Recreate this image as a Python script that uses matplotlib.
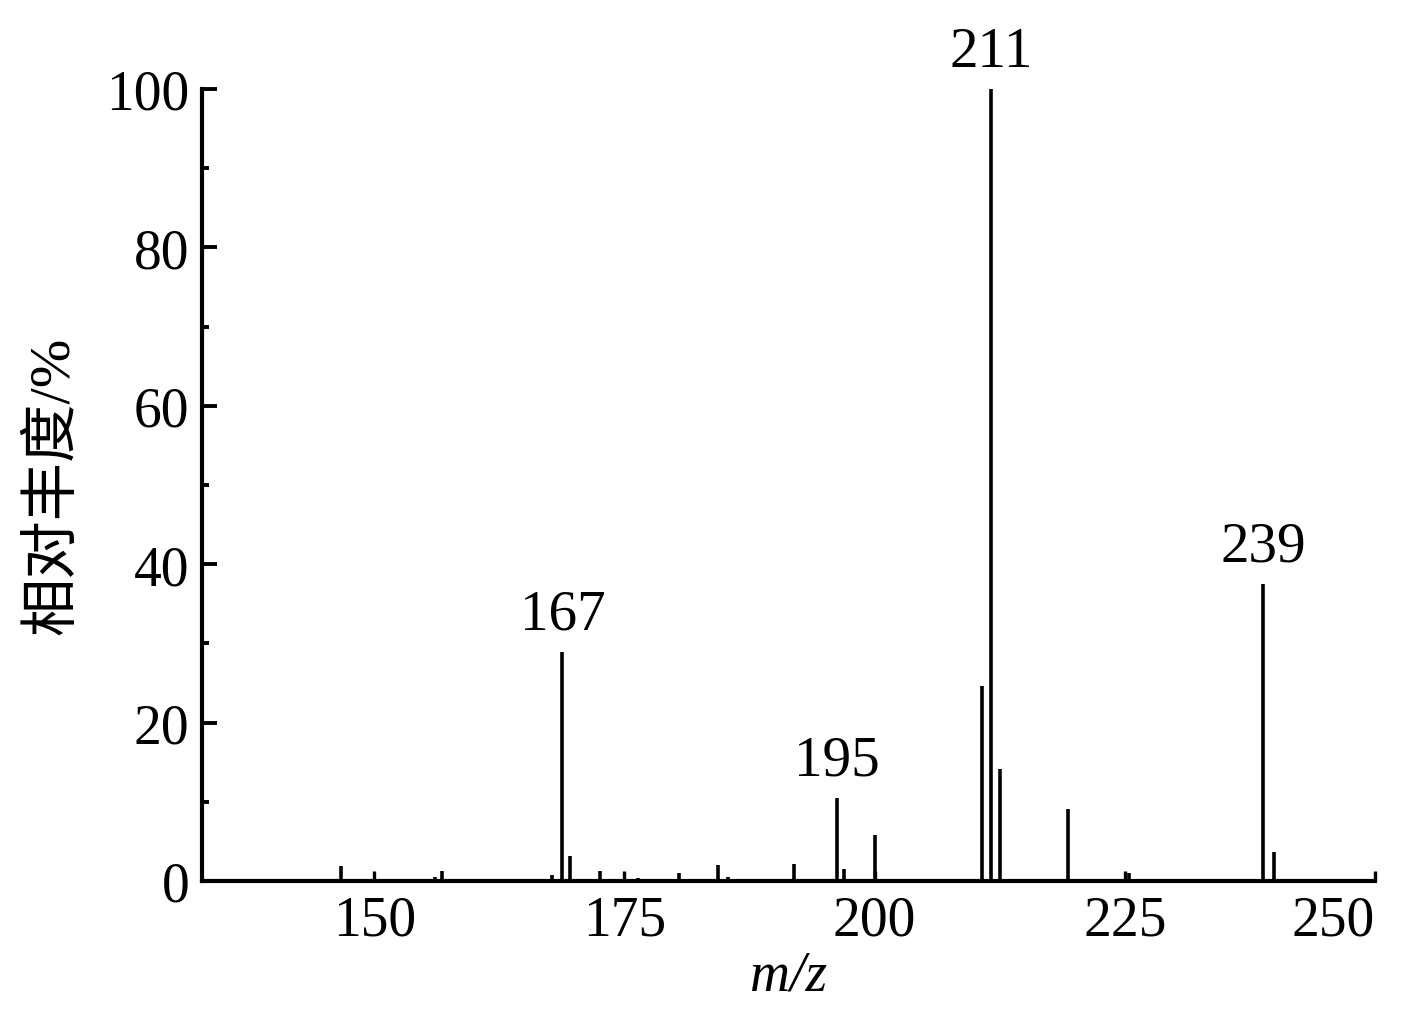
import matplotlib
matplotlib.use('Agg')
from matplotlib import pyplot as plt
from matplotlib.ticker import MultipleLocator

# peaks (m/z position, relative abundance %)
mz = [146.7, 156.1, 156.8, 167.8, 168.8, 169.6, 172.6, 176.4, 180.5,
      184.3, 185.3, 191.9, 196.2, 196.9, 200.0, 210.7, 211.6, 212.5,
      219.3, 225.4, 238.8, 239.9]
abundance = [1.9, 0.5, 1.3, 0.7, 28.9, 3.1, 1.3, 0.4, 1.0,
             2.0, 0.5, 2.1, 10.5, 1.5, 5.8, 24.6, 100.0, 14.1,
             9.1, 1.0, 37.5, 3.7]

# annotated peaks: text shown, index into the lists above
peak_labels = ['167', '195', '211', '239']
peak_index = [4, 12, 16, 20]

x_ticks = [150, 175, 200, 225, 250]
y_ticks = [0, 20, 40, 60, 80, 100]

serif = ['Liberation Serif', 'Noto Sans CJK SC']
plt.rcParams['font.family'] = serif
plt.rcParams['font.size'] = 40

fig = plt.figure(figsize=(14.17, 10.20), dpi=100)
ax = fig.add_axes([0.1426, 0.1353, 0.9704 - 0.1426, 0.9118 - 0.1353])

ax.vlines(mz, 0, abundance, colors='black', linewidth=2.6)

for lab, i in zip(peak_labels, peak_index):
    ax.annotate(lab, (mz[i], abundance[i]), xytext=(0, 8), textcoords='offset points',
                ha='center', va='bottom', fontsize=41)

ax.set_xlim(132.8, 250)
ax.set_ylim(0, 100)
ax.set_xticks(x_ticks)
ax.set_yticks(y_ticks)
ax.yaxis.set_minor_locator(MultipleLocator(10))

ax.spines['top'].set_visible(False)
ax.spines['right'].set_visible(False)
for s in ['left', 'bottom']:
    ax.spines[s].set_linewidth(3.0)

ax.tick_params(axis='y', which='major', direction='in', length=11, width=2.8, pad=9)
ax.tick_params(axis='y', which='minor', direction='in', length=5, width=2.8)
ax.tick_params(axis='x', which='major', direction='in', length=7, width=2.4, pad=10)
# last x label sits left of its tick so it stays inside the figure
ax.get_xticklabels()[-1].set_ha('right')

ax.set_xlabel('m/z', fontstyle='italic', labelpad=2)
ax.set_ylabel('相对丰度/%', family=serif, fontsize=42)
ax.yaxis.set_label_coords(-0.104, 0.5)

fig.savefig('out.png', dpi=100)
